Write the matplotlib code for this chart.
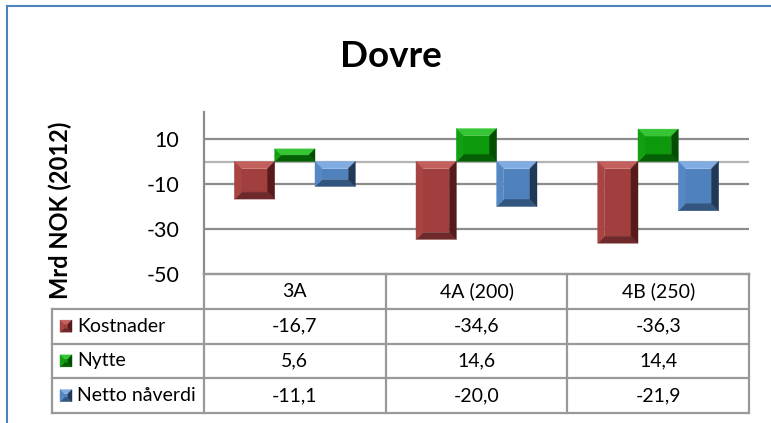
import matplotlib
matplotlib.use('Agg')
import matplotlib.pyplot as plt
from matplotlib.patches import Polygon
from matplotlib.lines import Line2D

plt.rcParams['font.family'] = ['Lato', 'DejaVu Sans']
plt.rcParams['axes.unicode_minus'] = False

categories = ['3A', '4A (200)', '4B (250)']
series_names = ['Kostnader', 'Nytte', 'Netto nåverdi']
kostnader = [-16.7, -34.6, -36.3]
nytte = [5.6, 14.6, 14.4]
netto = [-11.1, -20.0, -21.9]
yticks = [10, -10, -30, -50]
gridvals = [10, 0, -10, -30]

# face, top, bottom, left, right
palettes = [
    ['#A03F3D', '#C2605D', '#70292A', '#A84543', '#571A1A'],
    ['#0C990C', '#35C535', '#056005', '#12A012', '#034E03'],
    ['#4F81BD', '#80ACE2', '#33567F', '#5487C4', '#213957'],
]

W, H = 771, 423
fig = plt.figure(figsize=(W / 100, H / 100), dpi=100)


def px_box(l, t, r, b):
    return [l / W, 1 - b / H, (r - l) / W, (b - t) / H]


ax = fig.add_axes(px_box(204, 112, 749, 274))


def bevel(axis, L, B, R, T, cols, inset):
    # L,B,R,T in display pixels
    d = min(inset, (R - L) / 2, (T - B) / 2)
    inv = axis.transData.inverted()
    polys = [
        ([(L + d, B + d), (R - d, B + d), (R - d, T - d), (L + d, T - d)], cols[0]),
        ([(L, T), (R, T), (R - d, T - d), (L + d, T - d)], cols[1]),
        ([(L, B), (R, B), (R - d, B + d), (L + d, B + d)], cols[2]),
        ([(L, B), (L, T), (L + d, T - d), (L + d, B + d)], cols[3]),
        ([(R, B), (R, T), (R - d, T - d), (R - d, B + d)], cols[4]),
    ]
    for pts, c in polys:
        axis.add_patch(Polygon(inv.transform(pts), closed=True, facecolor=c,
                               edgecolor=c, linewidth=0.3, zorder=3,
                               clip_on=False))


ax.set_xlim(-0.5, 2.5)
ax.set_ylim(-50, 22)

bw = 0.222
offsets = [-bw, 0, bw]
values = [kostnader, nytte, netto]
x = list(range(len(categories)))
for k, vals in enumerate(values):
    bars = ax.bar([xi + offsets[k] for xi in x], vals, width=bw,
                  color=palettes[k][0], zorder=2)
    for p in bars.patches:
        x0, y0 = p.get_x(), p.get_y()
        x1, y1 = x0 + p.get_width(), y0 + p.get_height()
        (L, B), (R, T) = ax.transData.transform([(x0, min(y0, y1)), (x1, max(y0, y1))])
        bevel(ax, L, B, R, T, palettes[k], 7)
        p.set_visible(False)

for g in gridvals:
    ax.axhline(g, color='#b4b4b4' if g == 0 else '#8c8c8c', lw=1.6, zorder=1)

ax.set_xticks([])
ax.set_yticks(yticks)
ax.tick_params(axis='y', length=0, pad=18, labelsize=15.5)
for s in ['top', 'right']:
    ax.spines[s].set_visible(False)
ax.spines['left'].set_color('#8c8c8c')
ax.spines['left'].set_linewidth(1.6)
ax.spines['bottom'].set_color('#999999')
ax.spines['bottom'].set_linewidth(1.6)

fig.text(60 / W, 1 - 210 / H, 'Mrd NOK (2012)', rotation=90, ha='center',
         va='center', fontsize=17, fontweight='bold')
fig.text(391 / W, 1 - 67 / H, 'Dovre', ha='center', va='baseline',
         fontsize=26.5, fontweight='bold')

# data table under the plot
col_px = (749 - 204) / 3
lab_px = 204 - 52
x_left = -0.5 - lab_px / col_px
tx = fig.add_axes(px_box(52, 274, 749, 413))
tx.set_xlim(x_left, 2.5)
tx.set_ylim(4, 0)
tx.axis('off')
lc = '#999999'
tx.plot([-0.5, 2.5], [0, 0], color=lc, lw=1.6, clip_on=False)
for r in range(1, 5):
    tx.plot([x_left, 2.5], [r, r], color=lc, lw=1.6, clip_on=False)
for xv in [-0.5, 0.5, 1.5, 2.5]:
    tx.plot([xv, xv], [0, 4], color=lc, lw=1.6, clip_on=False)
tx.plot([x_left, x_left], [1, 4], color=lc, lw=1.6, clip_on=False)

for i, c in enumerate(categories):
    tx.text(i, 0.5, c, ha='center', va='center', fontsize=14)
for r, (name, vals) in enumerate(zip(series_names, values), start=1):
    cx, cy = tx.transData.transform((x_left, r + 0.5))
    bevel(tx, cx + 8, cy - 6, cx + 20, cy + 6, palettes[r - 1], 4)
    tx.text(x_left + 25 / col_px, r + 0.5, name, ha='left', va='center',
            fontsize=14)
    for i, v in enumerate(vals):
        tx.text(i, r + 0.5, f'{v:.1f}'.replace('.', ','), ha='center',
                va='center', fontsize=14)

# chart border (top and left visible)
fig.add_artist(Line2D([7 / W, 1], [1 - 6 / H, 1 - 6 / H], color='#4F81BD', lw=1.5))
fig.add_artist(Line2D([7 / W, 7 / W], [0, 1 - 6 / H], color='#4F81BD', lw=1.5))

fig.savefig('out.png', dpi=100)
